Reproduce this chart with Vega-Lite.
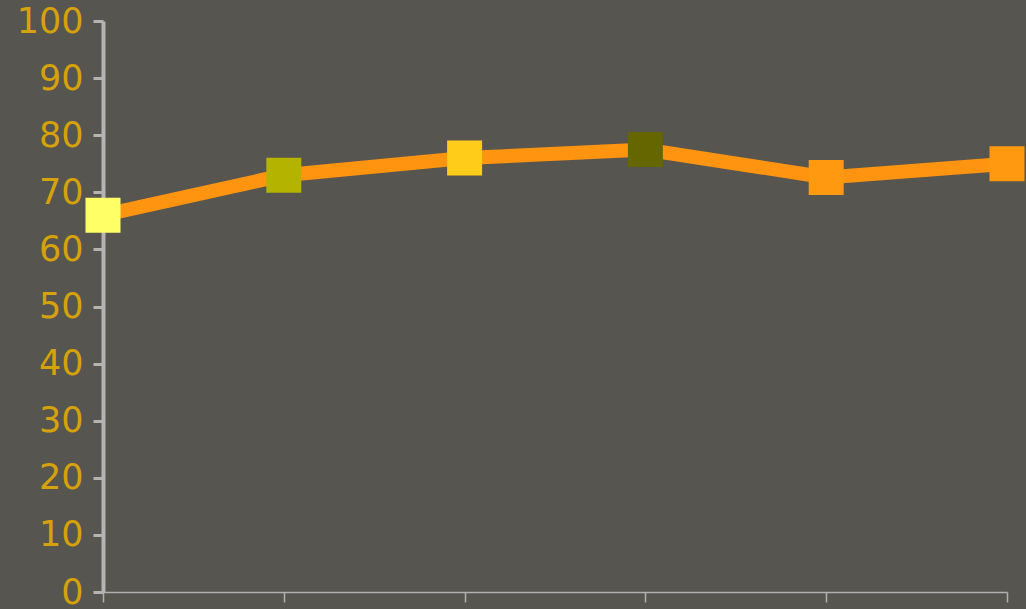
{
  "$schema": "https://vega.github.io/schema/vega-lite/v6.json",
  "autosize": "none",
  "width": 904,
  "height": 571,
  "padding": {"left": 103, "top": 21, "right": 19, "bottom": 17},
  "background": "#57554f",
  "config": {"view": {"stroke": null}},
  "data": {"values": [
    {"i": 0, "v": 66, "c": "#ffff66"},
    {"i": 1, "v": 73, "c": "#b3b300"},
    {"i": 2, "v": 76, "c": "#ffcc1a"},
    {"i": 3, "v": 77.5, "c": "#666600"},
    {"i": 4, "v": 72.6, "c": "#ff9910"},
    {"i": 5, "v": 75, "c": "#ff9910"}
  ]},
  "encoding": {
    "x": {"field": "i", "type": "quantitative", "scale": {"domain": [0, 5], "nice": false, "zero": false},
      "axis": {"title": null, "labels": false, "grid": false, "values": [0,1,2,3,4,5], "domainColor": "#b0b0b0", "domainWidth": 1.5, "tickColor": "#b0b0b0", "tickWidth": 1.5, "tickSize": 10}},
    "y": {"field": "v", "type": "quantitative", "scale": {"domain": [0, 100], "nice": false},
      "axis": {"title": null, "grid": false, "values": [0,10,20,30,40,50,60,70,80,90,100], "labelColor": "#d6a20a", "labelFont": "DejaVu Sans", "labelFontSize": 35, "labelPadding": 10, "domainColor": "#b4b4b4", "domainWidth": 4, "tickColor": "#b4b4b4", "tickWidth": 3, "tickSize": 10}}
  },
  "layer": [
    {"mark": {"type": "line", "color": "#ff9410", "strokeWidth": 14, "clip": false}},
    {"mark": {"type": "point", "shape": "square", "filled": true, "opacity": 1, "size": 1225, "clip": false},
      "encoding": {"color": {"field": "c", "type": "nominal", "scale": null}}}
  ]
}
